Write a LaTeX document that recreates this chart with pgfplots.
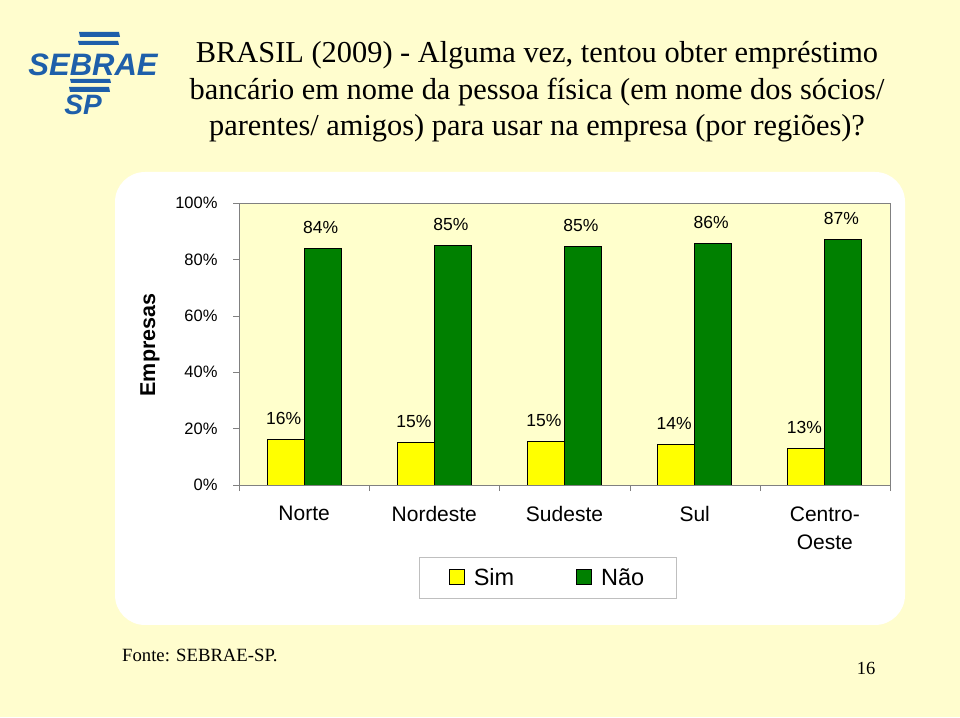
\documentclass[border=0pt]{standalone}
\usepackage{fontspec}
\setmainfont{Liberation Serif}
\newfontfamily\arial{Liberation Sans}
\usepackage{pgfplots}
\pgfplotsset{compat=1.18}
\definecolor{bgy}{RGB}{255,253,206}
\definecolor{ploty}{RGB}{255,255,204}
\definecolor{sebblue}{RGB}{30,95,170}
\definecolor{simy}{RGB}{255,255,0}
\definecolor{naog}{RGB}{0,128,0}
\begin{document}
\begin{tikzpicture}
\useasboundingbox (0pt,0pt) rectangle (960pt,717pt);
\fill[bgy] (0pt,0pt) rectangle (960pt,717pt);
\fill[white, rounded corners=30pt] (115pt,92pt) rectangle (905pt,545pt);
% logo
\fill[sebblue] (80pt,680pt) -- (120pt,680pt) -- (119pt,685pt) -- (79pt,685pt) -- cycle;
\fill[sebblue] (79pt,672pt) -- (119pt,672pt) -- (118pt,676pt) -- (78pt,676pt) -- cycle;
\fill[sebblue] (71pt,634pt) -- (111pt,634pt) -- (110pt,638pt) -- (70pt,638pt) -- cycle;
\fill[sebblue] (70pt,625pt) -- (110pt,625pt) -- (109pt,630pt) -- (69pt,630pt) -- cycle;
\node[sebblue, font=\arial\bfseries\itshape\fontsize{31}{31}\selectfont, inner sep=0pt] at (93pt,652pt) {SEBRAE};
\node[sebblue, font=\arial\bfseries\itshape\fontsize{28}{28}\selectfont, inner sep=0pt] at (83pt,612pt) {SP};
% title
\node[align=center, font=\fontsize{30.4}{36.5}\selectfont, inner sep=0pt] at (537pt,625pt)
  {BRASIL (2009) - Alguma vez, tentou obter empréstimo\\
   bancário em nome da pessoa física (em nome dos sócios/\\
   parentes/ amigos) para usar na empresa (por regiões)?};
% y label
\node[rotate=90, font=\arial\bfseries\fontsize{21.5}{21.5}\selectfont] at (150pt,372pt) {Empresas};
% footer
\node[anchor=west, font=\fontsize{18.7}{18.7}\selectfont, inner sep=0pt] at (122pt,62pt) {Fonte: SEBRAE-SP.};
\node[font=\fontsize{18.5}{18.5}\selectfont, inner sep=0pt] at (866pt,49pt) {16};
\begin{axis}[
  at={(239pt,232pt)}, anchor=south west,
  scale only axis, width=651pt, height=282pt,
  xmin=-0.5, xmax=4.5, ymin=0, ymax=100,
  ybar=0pt, bar width=37pt,
  axis background/.style={fill=ploty},
  axis line style={gray},
  tick style={gray},
  tick align=outside,
  xtick={0,1,2,3,4},
  xticklabels={Norte,Nordeste,Sudeste,Sul,{Centro-\\Oeste}},
  major x tick style={draw=none},
  minor xtick={-0.5,0.5,1.5,2.5,3.5,4.5},
  minor tick length=6pt,
  major tick length=6pt,
  xticklabel style={font=\arial\fontsize{21}{28}\selectfont, align=center, anchor=north, yshift=-12pt},
  ytick={0,20,40,60,80,100},
  yticklabel={\pgfmathprintnumber{\tick}\%},
  /pgf/number format/assume math mode=true,
  yticklabel style={font=\arial\fontsize{16.5}{16.5}\selectfont, xshift=-12pt},
  ytick pos=left, xtick pos=bottom,
  nodes near coords,
  nodes near coords style={font=\arial\fontsize{17.5}{17.5}\selectfont, anchor=center, yshift=21pt, xshift=-2pt},
  point meta=explicit symbolic,
  legend columns=2,
  legend style={at={(0.474,-0.328)}, anchor=center, draw=gray!50, fill=white,
    font=\arial\fontsize{23.5}{23.5}\selectfont, inner xsep=30pt, inner ysep=9pt,
    /tikz/every even column/.append style={column sep=60pt}},
  legend image code/.code={\draw[#1, draw=black] (0pt,-7pt) rectangle (15pt,8pt); \path (22pt,0pt);},
]
\addplot[fill=simy, draw=black, line width=0.9pt] coordinates {(0,16)[16\%] (1,15)[15\%] (2,15.5)[15\%] (3,14.5)[14\%] (4,13)[13\%]};
\addplot[fill=naog, draw=black, line width=0.9pt] coordinates {(0,84)[84\%] (1,85)[85\%] (2,84.5)[85\%] (3,85.5)[86\%] (4,87)[87\%]};
\legend{Sim,Não}
\end{axis}
\end{tikzpicture}
\end{document}
